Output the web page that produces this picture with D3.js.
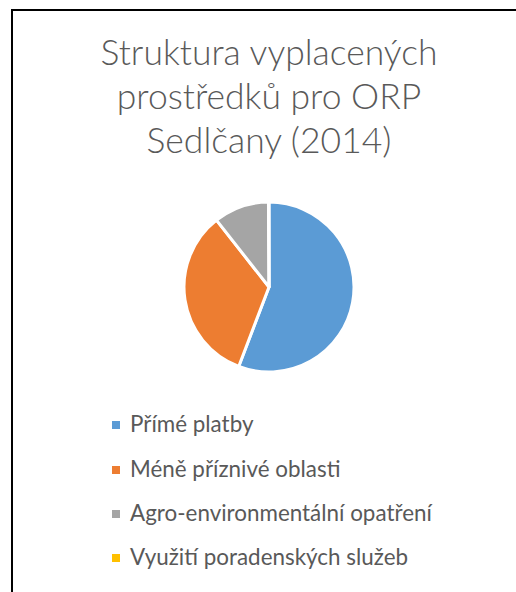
<!DOCTYPE html>
<html><head><meta charset="utf-8">
<script src="https://cdn.jsdelivr.net/npm/d3@7"></script>
<style>html,body{margin:0;padding:0;background:#fff;overflow:hidden}</style>
</head><body>
<script>
const titleLines = ["Struktura vyplacených", "prostředků pro ORP", "Sedlčany (2014)"];
const categories = ["Přímé platby", "Méně příznivé oblasti", "Agro-environmentální opatření", "Využití poradenských služeb"];
const values = [55.8, 33.6, 10.5, 0.1];
const colors = ["#5B9BD5", "#ED7D31", "#A5A5A5", "#FFC000"];

const W = 516, H = 592;
const svg = d3.select("body").append("svg").attr("width", W).attr("height", H);
svg.append("rect").attr("width", W).attr("height", H).attr("fill", "#fff");
svg.append("rect").attr("x", 12).attr("y", 10).attr("width", 600).attr("height", 700)
  .attr("fill", "none").attr("stroke", "#000").attr("stroke-width", 2);

const font = "Lato, 'Open Sans', sans-serif";
const tg = svg.append("g");
const titleBase = [65, 109, 153];
titleLines.forEach((t, i) => {
  tg.append("text").attr("x", 269).attr("y", titleBase[i]).attr("text-anchor", "middle")
    .attr("font-family", font).attr("font-weight", 300).attr("font-size", 30).attr("fill", "#595959").text(t);
});
const t0 = tg.select("text").node().getComputedTextLength();
const fs = 30 * 337 / t0;
tg.selectAll("text").attr("font-size", fs);

const cx = 269, cy = 287, r = 85;
const pie = d3.pie().sort(null).value(d => d);
const arc = d3.arc().innerRadius(0).outerRadius(r);
svg.append("g").attr("transform", `translate(${cx},${cy})`)
  .selectAll("path").data(pie(values)).join("path")
  .attr("d", arc).attr("fill", (d, i) => colors[i])
  .attr("stroke", "#fff").attr("stroke-width", 3).attr("stroke-linejoin", "round");

const lg = svg.append("g");
const legBase = [432, 477, 521, 565];
categories.forEach((c, i) => {
  lg.append("rect").attr("x", 112).attr("y", legBase[i] - 11).attr("width", 8).attr("height", 8)
    .attr("fill", colors[i]);
  lg.append("text").attr("x", 130).attr("y", legBase[i]).attr("font-family", font)
    .attr("font-size", 20).attr("fill", "#595959").text(c);
});
const l2 = lg.selectAll("text").nodes()[2].getComputedTextLength();
lg.selectAll("text").attr("font-size", 20 * 302 / l2);
</script>
</body></html>
